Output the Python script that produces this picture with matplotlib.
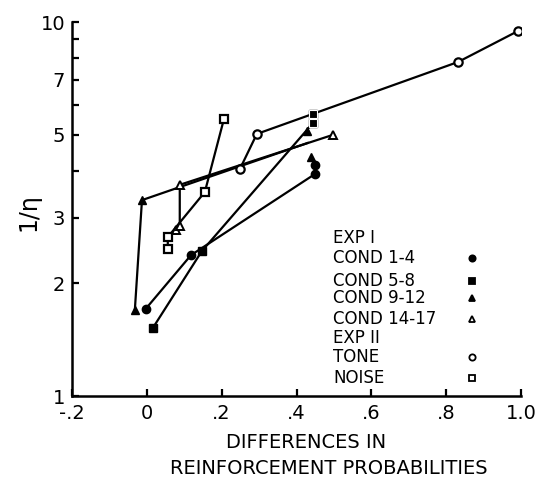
import numpy as np
import matplotlib.pyplot as plt
from matplotlib.ticker import FixedLocator, FixedFormatter, NullLocator

# EXP I
cond1_x = [-0.003, 0.118, 0.449, 0.449]
cond1_y = [1.71, 2.38, 3.92, 4.15]
cond2_x = [0.016, 0.147, 0.444, 0.444]
cond2_y = [1.52, 2.44, 5.37, 5.68]
cond3_x = [-0.032, -0.013, 0.430, 0.428, 0.439]
cond3_y = [1.70, 3.34, 4.75, 5.11, 4.36]
cond4_x = [0.078, 0.088, 0.088, 0.497]
cond4_y = [2.78, 2.85, 3.67, 4.99]
# EXP II
tone_x = [0.249, 0.294, 0.832, 0.992]
tone_y = [4.05, 5.02, 7.82, 9.46]
noise_x = [0.056, 0.056, 0.155, 0.206]
noise_y = [2.47, 2.66, 3.51, 5.50]

legend_labels = ['COND 1-4', 'COND 5-8', 'COND 9-12', 'COND 14-17', 'TONE', 'NOISE']

plt.rcParams['font.family'] = 'DejaVu Sans'
fig = plt.figure(figsize=(5.4, 4.79), dpi=100)
ax = fig.add_axes([72/540, 1-396/479, 449/540, 374/479])

lw = 1.6
ax.plot(cond1_x, cond1_y, '-o', color='black', lw=lw, ms=6)
ax.plot(cond2_x, cond2_y, '-s', color='black', lw=lw, ms=6)
# filled triangles: line ends without marker on the double line
ax.plot(cond3_x[:3], cond3_y[:3], '-', color='black', lw=lw)
ax.plot([cond3_x[i] for i in (0, 1, 3, 4)], [cond3_y[i] for i in (0, 1, 3, 4)],
        '^', color='black', ms=6, ls='none')
ax.plot(cond4_x, cond4_y, '-^', color='black', lw=lw, ms=6, mfc='white', mew=1.4)
ax.plot(tone_x, tone_y, '-o', color='black', lw=lw, ms=6, mfc='white', mew=1.6)
ax.plot(noise_x, noise_y, '-s', color='black', lw=lw, ms=6, mfc='white', mew=1.6)
# redraw filled squares on top of tone line
ax.plot(cond2_x[2:], cond2_y[2:], 's', color='black', ms=6, mec='white', mew=0.8)

ax.set_yscale('log')
ax.set_ylim(1, 10)
ax.set_xlim(-0.2, 1.0)
ax.yaxis.set_major_locator(FixedLocator([1, 2, 3, 4, 5, 6, 7, 8, 9, 10]))
ax.yaxis.set_major_formatter(FixedFormatter(['1', '2', '3', '', '5', '', '7', '', '', '10']))
ax.yaxis.set_minor_locator(NullLocator())
ax.set_xticks([-0.2, 0, 0.2, 0.4, 0.6, 0.8, 1.0])
ax.set_xticklabels(['-.2', '0', '.2', '.4', '.6', '.8', '1.0'])
for s in ('top', 'right'):
    ax.spines[s].set_visible(False)
for s in ('left', 'bottom'):
    ax.spines[s].set_linewidth(1.8)
ax.tick_params(direction='in', length=5, width=1.6, labelsize=14)
ax.tick_params(axis='x', pad=6)
ax.tick_params(axis='y', pad=5)

fig.text(28/540, 1-212/479, '1/η', rotation=90, fontsize=17, ha='center', va='center')
fig.text(306/540, 1-442/479, 'DIFFERENCES IN', fontsize=14, ha='center', va='center')
fig.text(329/540, 1-469/479, 'REINFORCEMENT PROBABILITIES', fontsize=14, ha='center', va='center')

# legend
rows = [('EXP I', None), (legend_labels[0], ('o', 'black')), (legend_labels[1], ('s', 'black')),
        (legend_labels[2], ('^', 'black')), (legend_labels[3], ('^', 'white')),
        ('EXP II', None), (legend_labels[4], ('o', 'white')), (legend_labels[5], ('s', 'white'))]
ys = [238, 258, 281, 298, 319, 338, 357, 378]
for (label, mk), py in zip(rows, ys):
    fig.text(333/540, 1-py/479, label, fontsize=12, ha='left', va='center')
    if mk:
        ax.plot([472/540], [1-py/479], mk[0], transform=fig.transFigure, ms=4.5,
                mfc=mk[1], mec='black', mew=1.3, clip_on=False)

fig.savefig('out.png', dpi=100)
